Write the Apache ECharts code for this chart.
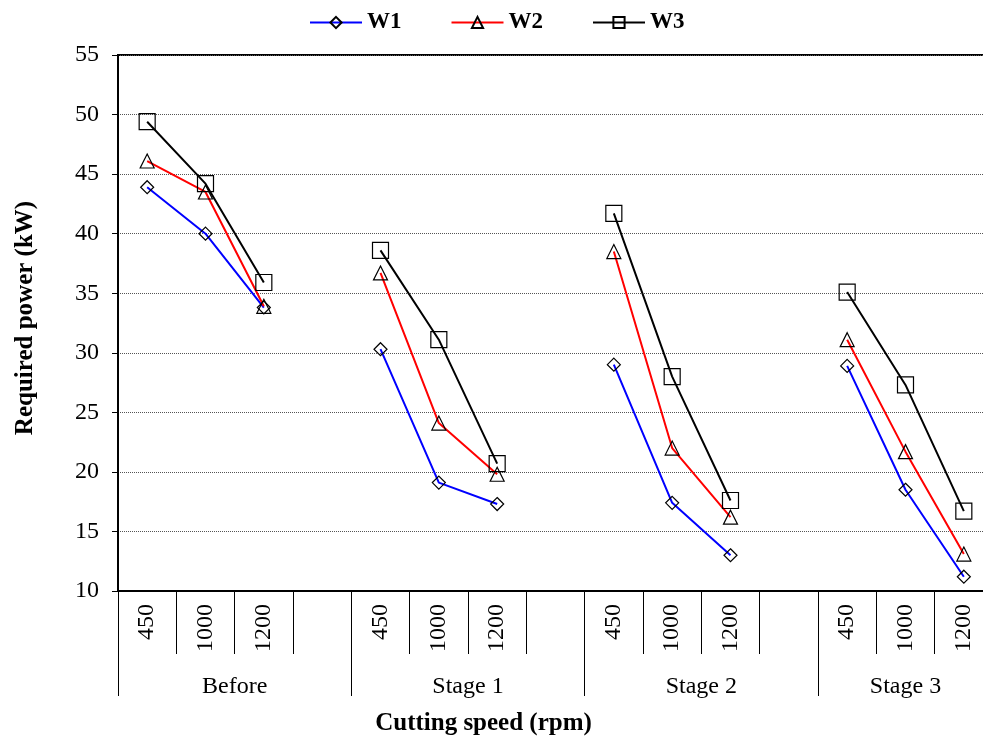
<!DOCTYPE html>
<html>
<head>
<meta charset="utf-8">
<script src="https://cdn.jsdelivr.net/npm/echarts@6/dist/echarts.min.js"></script>
<style>
  html, body { margin: 0; padding: 0; background: #fff; overflow: hidden; }
  #chart { width: 1000px; height: 741px; }
</style>
</head>
<body>
<div id="chart"></div>
<script>
// Cutting speeds within each stage and the stage groups
const speeds = ['450', '1000', '1200'];
const stages = ['Before', 'Stage 1', 'Stage 2', 'Stage 3'];

// Required power (kW) per stage, ordered by cutting speed
const W1 = [[43.9, 40.0, 33.8], [30.3, 19.1, 17.3], [29.0, 17.4, 13.0], [28.9, 18.5, 11.2]];
const W2 = [[46.1, 43.5, 33.9], [36.7, 24.1, 19.8], [38.5, 22.0, 16.2], [31.1, 21.7, 13.1]];
const W3 = [[49.4, 44.2, 35.9], [38.6, 31.1, 20.7], [41.7, 28.0, 17.6], [35.1, 27.3, 16.7]];

// Y-axis range
const yMin = 10, yMax = 55, yStep = 5;

const FONT = '"Liberation Serif", "Times New Roman", serif';

// Flatten stages into one category row with an empty slot between groups
const categories = [];
stages.forEach((s, i) => {
  speeds.forEach(v => categories.push(v));
  if (i < stages.length - 1) categories.push('');
});
function flatten(groups) {
  const out = [];
  groups.forEach((g, i) => {
    g.forEach(v => out.push(v));
    if (i < groups.length - 1) out.push(null);
  });
  return out;
}
const slotCount = categories.length;
const groupEdges = [];
const groupCenters = [];
stages.forEach((s, i) => {
  const start = i * (speeds.length + 1);
  const end = Math.min(start + speeds.length + 1, slotCount);
  groupEdges.push(start);
  groupCenters.push((start + end) / 2);
});
groupEdges.push(slotCount);

const chart = echarts.init(document.getElementById('chart'), null, { renderer: 'canvas' });

function seriesDef(name, groups, color, symbol, size) {
  return {
    name: name,
    type: 'line',
    xAxisIndex: 0,
    data: flatten(groups),
    connectNulls: false,
    symbol: symbol,
    symbolSize: size,
    showAllSymbol: true,
    lineStyle: { color: color, width: 2 },
    itemStyle: { color: 'rgba(255,255,255,0)', borderColor: '#000', borderWidth: 1.2 },
    emphasis: { disabled: true },
    z: 3
  };
}

chart.setOption({
  backgroundColor: '#fff',
  animation: false,
  legend: {
    top: 6,
    left: 304,
    itemWidth: 52,
    itemHeight: 14,
    itemGap: 49,
    textStyle: { fontFamily: FONT, fontWeight: 'bold', fontSize: 23, color: '#000' },
    data: ['W1', 'W2', 'W3']
  },
  grid: {
    left: 118, right: 7, top: 55, bottom: 141,
    show: true, borderColor: '#000', borderWidth: 2, backgroundColor: 'transparent'
  },
  xAxis: [
    {
      type: 'category',
      data: categories,
      boundaryGap: true,
      position: 'bottom',
      axisLine: { show: true, lineStyle: { color: '#000', width: 2 } },
      axisTick: { show: true, interval: 0, length: 63, lineStyle: { color: '#000', width: 1 } },
      axisLabel: {
        interval: 0, rotate: 90, margin: 13,
        fontFamily: FONT, fontSize: 24, color: '#000'
      },
      splitLine: { show: false }
    },
    {
      type: 'value',
      min: 0, max: slotCount,
      position: 'bottom',
      axisLine: { show: false },
      axisTick: { show: true, customValues: groupEdges, length: 105, lineStyle: { color: '#000', width: 1 } },
      axisLabel: {
        customValues: groupCenters,
        margin: 84,
        fontFamily: FONT, fontSize: 24, color: '#000',
        formatter: v => {
          const i = groupCenters.indexOf(v);
          return i >= 0 ? stages[i] : '';
        }
      },
      splitLine: { show: false },
      name: 'Cutting speed (rpm)',
      nameLocation: 'middle',
      nameGap: 120,
      nameTextStyle: { fontFamily: FONT, fontWeight: 'bold', fontSize: 25, color: '#000', padding: [0, 144, 0, 0] }
    }
  ],
  yAxis: {
    type: 'value',
    min: yMin, max: yMax, interval: yStep,
    axisLine: { show: true, lineStyle: { color: '#000', width: 2 } },
    axisTick: { show: true, inside: false, length: 6, lineStyle: { color: '#000', width: 1 } },
    axisLabel: { fontFamily: FONT, fontSize: 24, color: '#000', margin: 19 },
    splitLine: { show: true, lineStyle: { color: '#555', type: 'dotted', width: 1 } },
    name: 'Required power (kW)',
    nameLocation: 'middle',
    nameGap: 80,
    nameTextStyle: { fontFamily: FONT, fontWeight: 'bold', fontSize: 25, color: '#000', padding: [0, 0, 0, 10] }
  },
  series: [
    seriesDef('W1', W1, '#0000FF', 'diamond', 13),
    seriesDef('W2', W2, '#FF0000', 'triangle', 14),
    seriesDef('W3', W3, '#000000', 'rect', 16)
  ]
});
</script>
</body>
</html>
